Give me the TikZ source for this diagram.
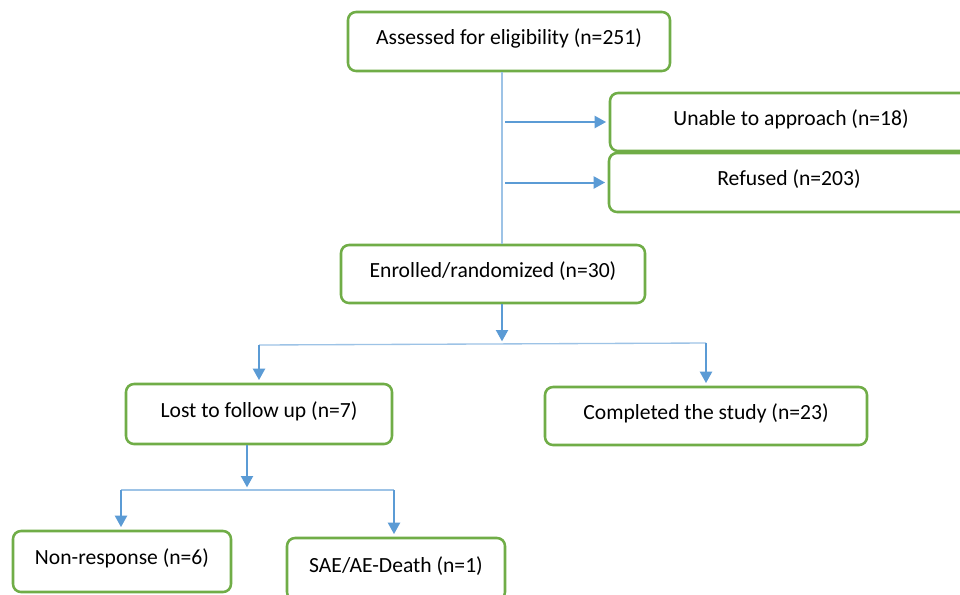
\documentclass[tikz,border=0pt]{standalone}
\usepackage{fontspec}
\setmainfont{Carlito}
\usetikzlibrary{arrows.meta,calc}
\definecolor{boxgreen}{HTML}{70AD47}
\definecolor{arrblue}{HTML}{5B9BD5}
\definecolor{thinblue}{HTML}{9DC3E6}
\tikzset{
  fbox/.style={draw=boxgreen, line width=1.9pt, rounded corners=6pt, fill=white,
    font=\fontsize{16.2}{19}\selectfont, text height=11pt, text depth=6.5pt, inner sep=0pt},
  arr/.style={draw=arrblue, line width=1.5pt, -{Triangle[width=9pt,length=8.5pt]}, shorten >=2pt},
  thinl/.style={draw=thinblue, line width=1pt}
}
\begin{document}
\begin{tikzpicture}[x=0.75pt,y=-0.75pt]
\useasboundingbox (0,0) rectangle (960,594);
\fill[white] (0,0) rectangle (960,594);
\clip (0,0) rectangle (960,594);
% boxes
\node[fbox, minimum width=241.5pt, minimum height=44.25pt] (top) at (509,41.5) {Assessed for eligibility (n=251)};
\node[fbox, minimum width=300pt, minimum height=43.5pt] (unable) at (810,122) {\hspace*{-28.5pt}Unable to approach (n=18)};
\node[fbox, minimum width=300pt, minimum height=44.25pt] (refused) at (809,182.5) {\hspace*{-30pt}Refused (n=203)};
\node[fbox, minimum width=228pt, minimum height=43.5pt] (enr) at (493,274) {Enrolled/randomized (n=30)};
\node[fbox, minimum width=199.5pt, minimum height=45pt] (lost) at (259,414) {Lost to follow up (n=7)};
\node[fbox, minimum width=241.5pt, minimum height=43.5pt] (comp) at (706,416) {Completed the study (n=23)};
\node[fbox, minimum width=163.5pt, minimum height=45.75pt] (nonr) at (122,561.5) {Non-response (n=6)};
\node[fbox, minimum width=163.5pt, minimum height=46.5pt] (sae) at (396,569) {SAE/AE-Death (n=1)};
% helper coordinates
\coordinate (vx) at (502,0);
\coordinate (ax) at (505,0);
\coordinate (j1) at (502,344);
\coordinate (j1l) at (259,345);
\coordinate (j1r) at (706,343);
\coordinate (lx) at (247,0);
\coordinate (j2) at (247,490);
\coordinate (j2l) at (121,490);
\coordinate (j2r) at (394,490);
% connectors
\draw[thinl] (top.south -| vx) -- (enr.north -| vx);
\draw[arr] (unable.west -| ax) -- (unable.west);
\draw[arr] (refused.west -| ax) -- (refused.west);
\draw[arr] (enr.south -| vx) -- (j1);
\draw[thinl] (j1l) -- (j1r);
\draw[arr] (j1l) -- (lost.north);
\draw[arr] (j1r) -- (comp.north);
\draw[arr] (lost.south -| lx) -- (j2);
\draw[thinl] (j2l) -- (j2r);
\draw[arr] (j2l) -- (j2l |- nonr.north);
\draw[arr] (j2r) -- (j2r |- sae.north);
\end{tikzpicture}
\end{document}
